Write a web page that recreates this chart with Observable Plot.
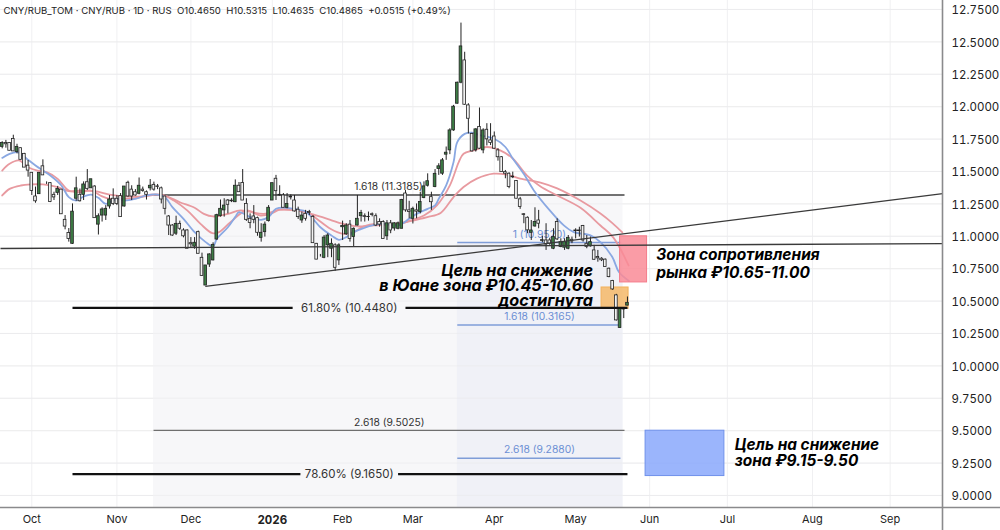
<!DOCTYPE html>
<html><head><meta charset="utf-8">
<style>html,body{margin:0;padding:0;background:#fff}svg{display:block}</style>
<script src="https://cdn.jsdelivr.net/npm/d3@7"></script>
<script src="https://cdn.jsdelivr.net/npm/@observablehq/plot@0.6"></script>
</head><body>
<script>
// open, high, low, close per daily bar
const candles = [
[11.69,11.73,11.675,11.72],[11.72,11.74,11.68,11.71],[11.72,11.72,11.66,11.66],[11.75,11.78,11.655,11.655],[11.65,11.71,11.636,11.69],
[11.68,11.68,11.59,11.59],[11.636,11.64,11.53,11.53],[11.545,11.585,11.456,11.507],[11.49,11.49,11.315,11.35],[11.307,11.38,11.255,11.27],
[11.325,11.49,11.325,11.49],[11.54,11.59,11.47,11.47],[11.41,11.42,11.40,11.41],[11.41,11.415,11.26,11.265],[11.32,11.34,11.276,11.3],
[11.335,11.385,11.315,11.365],[11.36,11.36,11.17,11.17],[11.127,11.16,11.05,11.075],[11.025,11.06,10.955,10.98],[10.942,11.25,10.937,11.19],
[11.29,11.456,11.27,11.37],[11.32,11.365,11.265,11.27],[11.32,11.42,11.276,11.4],[11.417,11.515,11.353,11.366],[11.37,11.44,11.37,11.44],
[11.384,11.39,11.14,11.14],[11.09,11.173,11.01,11.155],[11.16,11.22,11.11,11.207],[11.16,11.237,11.122,11.212],[11.23,11.315,11.21,11.284],
[11.29,11.366,11.237,11.25],[11.29,11.315,11.237,11.25],[11.31,11.33,11.148,11.148],[11.23,11.384,11.225,11.384],[11.413,11.425,11.302,11.307],
[11.36,11.39,11.276,11.307],[11.34,11.36,11.31,11.315],[11.328,11.45,11.32,11.39],[11.36,11.38,11.34,11.35],[11.34,11.35,11.28,11.32],
[11.37,11.438,11.35,11.39],[11.397,11.418,11.348,11.36],[11.385,11.4,11.36,11.38],[11.37,11.38,11.25,11.284],[11.307,11.31,11.165,11.212],
[11.153,11.16,11.006,11.083],[11.083,11.09,11.0,11.006],[11.02,11.155,11.006,11.096],[11.096,11.117,11.045,11.058],[11.045,11.058,10.988,11.0],
[11.045,11.05,10.904,10.904],[10.947,10.99,10.91,10.938],[10.92,10.99,10.9,10.95],[11.032,11.04,10.865,10.865],[10.834,10.87,10.69,10.693],
[10.62,10.77,10.62,10.775],[10.782,10.865,10.76,10.86],[10.814,10.95,10.81,10.934],[10.975,11.17,10.97,11.163],[11.155,11.28,11.148,11.212],
[11.2,11.29,11.148,11.237],[11.276,11.284,11.173,11.243],[11.27,11.29,11.26,11.275],[11.263,11.435,11.26,11.39],[11.39,11.415,11.34,11.34],
[11.412,11.515,11.276,11.276],[11.25,11.29,11.115,11.127],[11.135,11.173,11.058,11.102],[11.153,11.237,11.097,11.127],[11.14,11.148,11.0,11.027],
[10.988,11.097,10.955,11.027],[11.032,11.11,10.994,11.09],[11.117,11.237,11.11,11.22],[11.276,11.41,11.276,11.41],[11.444,11.47,11.276,11.348],
[11.32,11.39,11.31,11.315],[11.315,11.33,11.22,11.22],[11.22,11.33,11.212,11.25],[11.305,11.32,11.28,11.3],[11.276,11.315,11.187,11.192],
[11.205,11.225,11.13,11.148],[11.122,11.187,11.1,11.16],[11.173,11.2,11.117,11.135],[11.187,11.2,11.16,11.18],[11.15,11.16,10.947,10.947],
[10.942,10.945,10.82,10.82],[10.85,10.86,10.84,10.85],[10.834,11.006,10.827,10.99],[10.93,11.02,10.835,11.006],[10.904,10.98,10.835,10.942],
[10.93,10.942,10.73,10.757],[10.814,10.942,10.775,10.93],[11.07,11.117,10.968,11.08],[11.015,11.097,11.007,11.083],[11.09,11.122,10.955,10.98],
[10.994,11.065,10.917,11.058],[11.083,11.315,11.08,11.135],[11.155,11.2,11.11,11.18],[11.155,11.173,11.11,11.15],[11.15,11.187,11.117,11.148],
[11.17,11.18,11.15,11.165],[11.155,11.173,11.075,11.083],[11.11,11.135,11.07,11.09],[11.11,11.12,10.98,10.98],[11.0,11.122,10.968,11.1],
[11.1,11.122,11.02,11.045],[11.06,11.105,11.04,11.1],[11.058,11.11,11.05,11.1],[11.058,11.285,11.058,11.28],[11.33,11.353,11.186,11.2],
[11.2,11.27,11.135,11.187],[11.135,11.225,11.095,11.212],[11.2,11.25,11.135,11.19],[11.187,11.34,11.173,11.265],[11.295,11.42,11.29,11.385],
[11.39,11.482,11.38,11.425],[11.302,11.34,11.2,11.263],[11.38,11.515,11.375,11.482],[11.52,11.56,11.47,11.54],[11.483,11.6,11.47,11.586],
[11.63,11.689,11.586,11.645],[11.663,11.83,11.63,11.817],[11.817,12.01,11.81,12.0],[12.023,12.19,12.02,12.185],[12.185,12.645,12.177,12.465],
[12.357,12.42,12.01,12.015],[12.01,12.023,11.79,11.907],[11.79,11.795,11.65,11.655],[11.663,11.83,11.65,11.825],[11.843,11.99,11.67,11.676],
[11.663,11.83,11.637,11.817],[11.822,11.869,11.697,11.748],[11.74,11.869,11.7,11.72],[11.77,11.805,11.67,11.676],[11.663,11.676,11.58,11.61],
[11.61,11.615,11.495,11.495],[11.495,11.508,11.444,11.483],[11.483,11.49,11.367,11.38],[11.46,11.495,11.445,11.455],[11.426,11.43,11.29,11.29],
[11.285,11.3,11.208,11.226],[11.17,11.175,11.097,11.165],[11.143,11.15,11.02,11.046],[11.027,11.122,10.968,11.045],[11.076,11.22,11.07,11.11],
[11.122,11.2,11.058,11.097],[10.965,11.0,10.95,10.97],[10.968,11.097,10.891,10.937],[10.968,10.985,10.93,10.943],[10.904,11.058,10.897,10.994],
[11.11,11.135,10.968,10.976],[10.917,10.981,10.912,10.955],[10.912,10.981,10.891,10.955],[10.904,11.006,10.896,10.988],[10.973,10.994,10.943,10.96],
[11.045,11.058,10.98,11.04],[11.045,11.07,10.994,11.04],[11.079,11.084,10.955,10.968],[10.942,11.006,10.904,10.917],[10.922,10.994,10.917,10.955],
[10.891,10.93,10.814,10.819],[10.84,10.891,10.8,10.83],[10.827,10.835,10.805,10.815],[10.82,10.825,10.763,10.763],[10.75,10.755,10.68,10.685],
[10.655,10.66,10.583,10.59],[10.544,10.552,10.346,10.351],[10.292,10.441,10.29,10.44],[10.44,10.442,10.365,10.435],[10.465,10.5315,10.4635,10.4865]
];
// moving averages read at chosen bars: [bar, price]
const maFast = [[0,11.605],[2,11.636],[4,11.649],[5,11.636],[7,11.59],[9,11.546],[11,11.507],[13,11.469],[16,11.392],[18,11.302],[20,11.276],[22,11.307],[24,11.322],[26,11.297],[28,11.25],[31,11.289],[33,11.276],[36,11.289],[39,11.315],[42,11.322],[44,11.302],[46,11.225],[49,11.135],[52,11.032],[55,10.955],[57,10.922],[58,10.98],[61,11.07],[63,11.15],[64,11.187],[67,11.148],[70,11.127],[72,11.148],[74,11.212],[77,11.22],[80,11.205],[82,11.192],[84,11.135],[86,11.07],[89,11.006],[91,10.973],[93,10.994],[95,11.032],[98,11.066],[100,11.084],[103,11.097],[107,11.084],[110,11.135],[112,11.173],[115,11.212],[117,11.238],[118,11.29],[120,11.393],[122,11.573],[123,11.727],[125,11.79],[127,11.8],[129,11.78],[133,11.753],[136,11.689],[138,11.6],[141,11.48],[143.7,11.354],[148,11.2],[151.8,11.084],[154.5,11.032],[159,11.007],[161.7,10.955],[164.9,10.84],[166.7,10.724],[169.4,10.655]];
const maMid = [[0,11.507],[2,11.559],[4.5,11.585],[7,11.533],[9.5,11.507],[12,11.495],[15,11.443],[18,11.353],[21,11.34],[24,11.353],[26.5,11.315],[29,11.289],[33,11.289],[36.5,11.297],[40,11.322],[43.7,11.315],[46.4,11.276],[50,11.2],[53.6,11.096],[56.8,11.024],[58.6,11.032],[61.7,11.109],[66,11.199],[69.8,11.16],[72.5,11.173],[75,11.205],[78,11.205],[82.4,11.187],[85,11.135],[88.7,11.058],[91.9,11.02],[95,11.032],[97.7,11.076],[101.3,11.097],[106.7,11.09],[110.3,11.122],[114,11.16],[117.5,11.239],[121,11.393],[123.4,11.573],[124.7,11.637],[127.4,11.663],[131,11.689],[134.6,11.663],[138,11.6],[141.8,11.47],[145.5,11.384],[150,11.315],[156.3,11.22],[161.7,11.083],[165.2,10.99],[169.3,10.775]];
const maSlow = [[0,11.315],[2,11.366],[5,11.392],[7.7,11.4],[11,11.4],[15,11.379],[18,11.348],[21,11.353],[25,11.348],[29,11.322],[34,11.307],[38,11.307],[42,11.322],[44.6,11.307],[48,11.263],[52,11.22],[54.5,11.173],[57,11.153],[61,11.173],[64.4,11.2],[70.7,11.173],[75,11.205],[79.7,11.199],[84,11.169],[88.7,11.127],[91.9,11.097],[96,11.076],[100.4,11.084],[106.7,11.097],[110.3,11.117],[114.9,11.148],[118.5,11.18],[122,11.303],[124.7,11.38],[128.3,11.445],[132.8,11.483],[136.4,11.476],[140,11.445],[145.5,11.415],[150,11.37],[156.3,11.276],[161.7,11.176],[165,11.1],[167.6,11.03]];

const priceTicks = [12.75,12.5,12.25,12,11.75,11.5,11.25,11,10.75,10.5,10.25,10,9.75,9.5,9.25,9];
const monthBars = [8,31,51,92,111,133,155,175,196,219,240];
const monthNames = ["Oct","Nov","Dec","Feb","Mar","Apr","May","Jun","Jul","Aug","Sep"];
const yearBar = 73, yearName = "2026";

// [startBar, endBar, price]
const blackFibs = [[40.9,168.2,11.3185],[40.9,168.2,9.5025]];
const blueFibs = [[123,167.1,10.952],[123,167.1,10.3165],[123,167.1,9.288]];
const retraceSegments = [[19,78.5,10.448],[109,169,10.448],[19,80.6,9.165],[107,169,9.165]];
// [startBar, startPrice, endBar, endPrice]
const trendLines = [[54.9,10.613,254.2,11.33],[-0.46,10.906,254.2,10.944]];
// [startBar, endBar, lowPrice, highPrice, colour]
const shades = [[40.9,167.8,8.9074,11.3185,"#f7f7f9"],[123,167.8,8.9074,10.952,"#f0f1f7"]];
const zones = [[167,174.3,10.644,11.0,"#f98b97"],[162,169.3,10.44,10.605,"#f5b968"],[173.9,195.2,9.15,9.5,"#8aa8fb"]];
const zoneEdges = ["#f57c8a","#f2b15c","#6f90ea"];
// [bar, price, text]
const fibLabels = [[104.4,11.3185,"1.618 (11.3185)"],[104.6,9.5025,"2.618 (9.5025)"]];
const blueLabels = [[145.2,10.952,"1 (10.9520)"],[145.2,10.3165,"1.618 (10.3165)"],[145.2,9.288,"2.618 (9.2880)"]];
const retraceLabels = [[93.8,10.448,"61.80% (10.4480)"],[93.8,9.165,"78.60% (9.1650)"]];
const notesLeft = [[159.7,10.736,"Цель на снижение"],[159.7,10.62,"в Юане зона ₽10.45-10.60"],[159.7,10.505,"достигнута"]];
const notesZone = [[176.8,10.852,"Зона сопротивления"],[176.8,10.72,"рынка ₽10.65-11.00"]];
const notesTarget = [[198,9.386,"Цель на снижение"],[198,9.262,"зона ₽9.15-9.50"]];
const legendText = "CNY/RUB_TOM · CNY/RUB · 1D · RUS\u00a0\u00a0O10.4650\u00a0\u00a0H10.5315\u00a0\u00a0L10.4635\u00a0\u00a0C10.4865\u00a0\u00a0+0.0515 (+0.49%)";

const bars = candles.map(([o,h,l,c],i)=>({i,o,h,l,c}));
const up = bars.filter(d=>d.c>=d.o), down = bars.filter(d=>d.c<d.o);
const FONT = "Inter, 'Noto Sans', sans-serif";
const lab = d=>d[2];
const fibText = (data,fill)=>Plot.text(data,{x:d=>d[0],y:d=>d[1],text:lab,fill,fontSize:10.3,dy:-8,fontFamily:FONT});
const body = (data,fill)=>Plot.rect(data,{x1:d=>d.i-0.36,x2:d=>d.i+0.36,y1:"o",y2:"c",fill,stroke:"#222",strokeWidth:0.8});
const note = (data,anchor,size)=>Plot.text(data,{x:d=>d[0],y:d=>d[1],text:lab,textAnchor:anchor,fill:"#000",fontSize:size,fontWeight:700,fontStyle:"italic",fontFamily:FONT});

const chart = Plot.plot({
  width:1000,height:530,marginTop:0,marginRight:58,marginBottom:23,marginLeft:0,
  style:{fontFamily:FONT,background:"#fff"},
  x:{type:"linear",domain:[-0.46,254.15],range:[0,942],axis:null},
  y:{type:"linear",domain:[8.9074,12.8194],range:[507,0],axis:null},
  marks:[
    Plot.ruleY(priceTicks,{stroke:"#f0f0f2",strokeWidth:1}),
    Plot.ruleX([...monthBars,yearBar],{stroke:"#f0f0f2",strokeWidth:1}),
    Plot.rect(shades,{x1:d=>d[0],x2:d=>d[1],y1:d=>d[2],y2:d=>d[3],fill:d=>d[4]}),
    Plot.ruleY(priceTicks,{stroke:"#e9e9ec",strokeWidth:1,strokeOpacity:0.5}),
    Plot.link(blackFibs,{x1:d=>d[0],x2:d=>d[1],y1:d=>d[2],y2:d=>d[2],stroke:(d,i)=>i?"#6f6f6f":"#444",strokeWidth:1.3}),
    Plot.link(blueFibs,{x1:d=>d[0],x2:d=>d[1],y1:d=>d[2],y2:d=>d[2],stroke:"#7f9dd8",strokeWidth:1.5}),
    fibText(blueLabels,"#6c8fd4"),
    fibText(fibLabels,"#333"),
    Plot.line(maSlow,{x:d=>d[0],y:d=>d[1],stroke:"#e89aa0",strokeWidth:1.8,curve:"catmull-rom"}),
    Plot.line(maMid,{x:d=>d[0],y:d=>d[1],stroke:"#e89aa0",strokeWidth:1.8,curve:"catmull-rom"}),
    Plot.line(maFast,{x:d=>d[0],y:d=>d[1],stroke:"#8aa8e2",strokeWidth:1.8,curve:"catmull-rom"}),
    Plot.rect(zones,{x1:d=>d[0],x2:d=>d[1],y1:d=>d[2],y2:d=>d[3],fill:d=>d[4],fillOpacity:0.85,stroke:(d,i)=>zoneEdges[i],strokeWidth:1}),
    Plot.ruleX(bars,{x:"i",y1:"l",y2:"h",stroke:"#222",strokeWidth:1}),
    body(down,"#f2f2f2"),
    body(up,"#3d7d45"),
    Plot.link(trendLines,{x1:d=>d[0],y1:d=>d[1],x2:d=>d[2],y2:d=>d[3],stroke:"#3a3a3a",strokeWidth:1.3}),
    Plot.link(retraceSegments,{x1:d=>d[0],x2:d=>d[1],y1:d=>d[2],y2:d=>d[2],stroke:"#111",strokeWidth:2.2}),
    Plot.text(retraceLabels,{x:d=>d[0],y:d=>d[1],text:lab,fill:"#333",fontSize:11.5,fontFamily:FONT}),
    note(notesLeft,"end",16.2),
    note(notesZone,"start",15.5),
    note(notesTarget,"start",15.4),
    Plot.text([legendText],{x:0.35,y:12.742,text:d=>d,textAnchor:"start",fill:"#222",fontSize:9.6,fontFamily:FONT}),
    Plot.ruleX([254.15],{stroke:"#8a8a8c",strokeWidth:1.6,insetBottom:-23}),
    Plot.ruleY([8.9074],{stroke:"#8a8a8c",strokeWidth:1.4,insetRight:-58}),
    Plot.axisY({ticks:priceTicks,anchor:"right",tickSize:0,tickPadding:9,label:null,tickFormat:d=>d.toFixed(4),fontSize:11.5,dy:1,fill:"#222",fontFamily:FONT}),
    Plot.axisX({ticks:monthBars,anchor:"bottom",tickSize:0,tickPadding:8,label:null,tickFormat:(d,i)=>monthNames[i],fontSize:11,fill:"#222",fontFamily:FONT}),
    Plot.axisX({ticks:[yearBar],anchor:"bottom",tickSize:0,tickPadding:8,label:null,tickFormat:()=>yearName,fontSize:11.5,fontWeight:700,fill:"#222",fontFamily:FONT})
  ]
});
document.body.appendChild(chart);
</script>
</body></html>
